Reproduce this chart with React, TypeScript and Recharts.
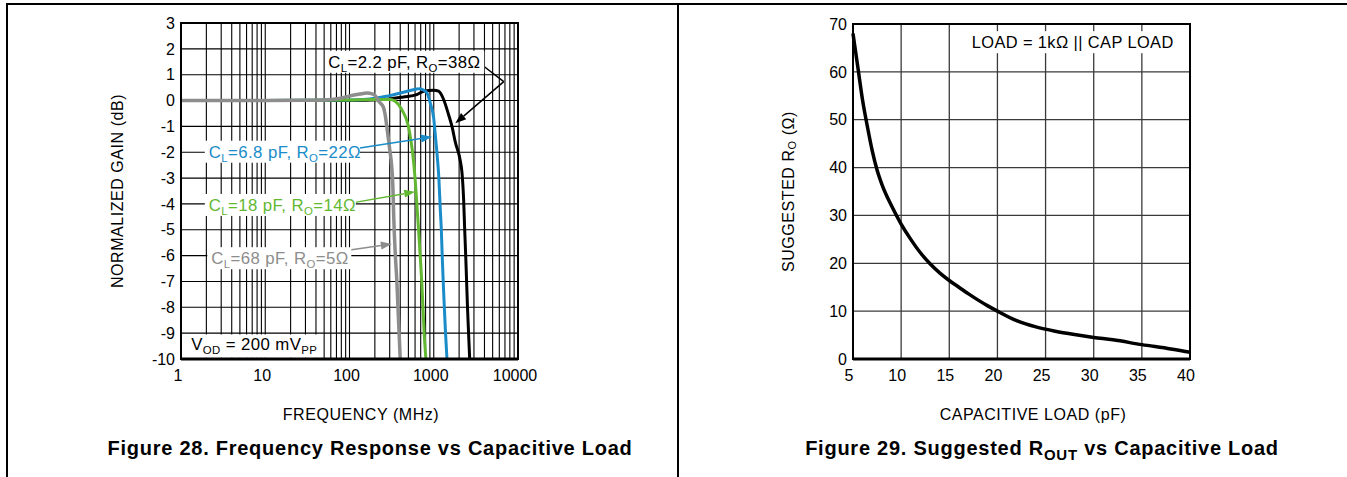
import {
  CartesianGrid,
  Line,
  LineChart,
  ReferenceArea,
  ReferenceDot,
  ReferenceLine,
  XAxis,
  YAxis,
} from "recharts";

const FONT = "'Liberation Sans', Arial, Helvetica, sans-serif";

// ---- Figure 28 data ----
const FREQ_TICKS = [1, 10, 100, 1000, 10000];
const FREQ_GRID = [
  1, 2, 3, 4, 5, 6, 7, 8, 9, 10, 20, 30, 40, 50, 60, 70, 80, 90, 100, 200, 300,
  400, 500, 600, 700, 800, 900, 1000, 2000, 3000, 4000, 5000, 6000, 7000, 8000,
  9000, 10000,
];
const GAIN_TICKS = [3, 2, 1, 0, -1, -2, -3, -4, -5, -6, -7, -8, -9, -10];

const cl22Freq = [1, 10, 100, 252, 437, 630, 760, 1000, 1140, 1310, 1500, 1645, 1800, 2070, 2165, 2260, 2330, 2395, 2455, 2515, 2590, 2670];
const cl22Gain = [0, 0, 0, 0.04, 0.14, 0.23, 0.36, 0.4, 0.36, 0.04, -0.55, -1.0, -1.6, -2.35, -2.8, -3.8, -5.0, -6.0, -7.0, -8.0, -9.0, -10];

const cl68pFreq = [1, 10, 100, 175, 277, 437, 630, 690, 760, 830, 910, 1000, 1045, 1090, 1150, 1195, 1230, 1260, 1295, 1335, 1380, 1435];
const cl68pGain = [0, 0, 0.02, 0.06, 0.17, 0.32, 0.45, 0.46, 0.4, 0.3, -0.1, -0.7, -1.35, -2.0, -3.0, -4.2, -5.0, -6.0, -7.0, -8.0, -9.0, -10];

const cl18Freq = [1, 10, 100, 190, 300, 340, 380, 437, 470, 500, 530, 560, 600, 630, 660, 690, 720, 745, 770, 807];
const cl18Gain = [0, 0, 0.02, 0.04, 0.04, 0, -0.15, -0.47, -0.7, -1.0, -1.45, -2.0, -3.0, -4.0, -5.0, -6.0, -7.0, -8.0, -9.0, -10];

const cl68Freq = [1, 10, 30, 50, 75, 93, 133, 160, 190, 210, 225, 252, 265, 277, 290, 303, 316, 327, 335, 342, 350, 365, 376, 388, 400];
const cl68Gain = [0, 0, 0.01, 0.02, 0.08, 0.15, 0.25, 0.29, 0.25, 0.12, -0.05, -0.25, -0.55, -1.0, -1.5, -2.0, -2.5, -3.3, -4.5, -5.3, -6.0, -7.0, -8.0, -9.0, -10];

// ---- Figure 29 data ----
const CAP_TICKS = [5, 10, 15, 20, 25, 30, 35, 40];
const RO_TICKS = [0, 10, 20, 30, 40, 50, 60, 70];
const capLoad = [5, 5.5, 6, 6.5, 7, 7.5, 8, 9, 10, 11, 12, 13, 14, 15, 16, 17, 18, 19, 20, 22, 24, 26, 28, 30, 32, 35, 38, 40];
const suggestedRo = [68, 61, 54, 48.5, 43.5, 39.5, 36.5, 32, 28.2, 25.0, 22.2, 19.9, 18.0, 16.4, 15.0, 13.6, 12.3, 11.1, 10, 8, 6.7, 5.8, 5.1, 4.5, 4.0, 3.0, 2.1, 1.4];

const zip = (xs: number[], ys: number[], xk: string, yk: string) =>
  xs.map((x, i) => ({ [xk]: x, [yk]: ys[i] }));

const cl22Data = zip(cl22Freq, cl22Gain, "freq", "gain");
const cl68pData = zip(cl68pFreq, cl68pGain, "freq", "gain");
const cl18Data = zip(cl18Freq, cl18Gain, "freq", "gain");
const cl68Data = zip(cl68Freq, cl68Gain, "freq", "gain");
const roData = zip(capLoad, suggestedRo, "cap", "ro");

type Part = { t: string; sub?: boolean };

const BLACK = "#000000";
const BLUE = "#1a8cc9";
const GREEN = "#63b832";
const GRAY = "#8d8d8d";

function RichText({ x, y, parts, color, size = 16 }: any) {
  return (
    <text x={x} y={y} fill={color} fontFamily={FONT} fontSize={size} letterSpacing={0.4}>
      {parts.map((p: Part, i: number) => {
        const prevSub = i > 0 && parts[i - 1].sub;
        const dy = p.sub ? 4 : prevSub ? -4 : 0;
        return (
          <tspan key={i} dy={dy} fontSize={p.sub ? size * 0.68 : size}>
            {p.t}
          </tspan>
        );
      })}
    </text>
  );
}

const makeTag =
  (parts: Part[], color: string, boxW: number, padL = 4, size = 16.8) =>
  (props: any) => {
    const { cx, cy } = props;
    return (
      <g>
        {boxW > 0 && (
          <rect x={cx - padL} y={cy - 11} width={boxW} height={22} fill="#fff" />
        )}
        <RichText x={cx} y={cy + 6} parts={parts} color={color} size={size} />
      </g>
    );
  };

const makeArrow = (color: string, head: boolean) => (props: any) => {
  const { x1, y1, x2, y2 } = props;
  const ang = Math.atan2(y2 - y1, x2 - x1);
  const len = 11;
  const hw = 4;
  const bx = x2 - len * Math.cos(ang);
  const by = y2 - len * Math.sin(ang);
  const px = -Math.sin(ang) * hw;
  const py = Math.cos(ang) * hw;
  return (
    <g>
      <line x1={x1} y1={y1} x2={head ? bx : x2} y2={head ? by : y2} stroke={color} strokeWidth={1.5} />
      {head && (
        <polygon
          points={`${x2},${y2} ${bx + px},${by + py} ${bx - px},${by - py}`}
          fill={color}
        />
      )}
    </g>
  );
};

const tag22: Part[] = [{ t: "C" }, { t: "L", sub: true }, { t: "=2.2 pF, R" }, { t: "O", sub: true }, { t: "=38Ω" }];
const tag68p: Part[] = [{ t: "C" }, { t: "L", sub: true }, { t: "=6.8 pF, R" }, { t: "O", sub: true }, { t: "=22Ω" }];
const tag18: Part[] = [{ t: "C" }, { t: "L", sub: true }, { t: "=18 pF, R" }, { t: "O", sub: true }, { t: "=14Ω" }];
const tag68: Part[] = [{ t: "C" }, { t: "L", sub: true }, { t: "=68 pF, R" }, { t: "O", sub: true }, { t: "=5Ω" }];
const tagVod: Part[] = [{ t: "V" }, { t: "OD", sub: true }, { t: " = 200 mV" }, { t: "PP", sub: true }];
const tagLoad: Part[] = [{ t: "LOAD = 1kΩ || CAP LOAD" }];

const tickStyle = { fill: "#000", fontSize: 16, fontFamily: FONT };

const yLabel = (text: string, fromRight: number) => (props: any) => {
  const vb = props.viewBox;
  const x = vb.x + vb.width - fromRight;
  const y = vb.y + vb.height / 2;
  return (
    <text
      x={x}
      y={y}
      transform={`rotate(-90, ${x}, ${y})`}
      textAnchor="middle"
      dominantBaseline="central"
      fontFamily={FONT}
      fontSize={16}
      letterSpacing={0.55}
      fill="#000"
    >
      {text}
    </text>
  );
};

const roLabel = (props: any) => {
  const vb = props.viewBox;
  const x = vb.x + vb.width - 65;
  const y = vb.y + vb.height / 2;
  return (
    <text
      x={x}
      y={y}
      transform={`rotate(-90, ${x}, ${y})`}
      textAnchor="middle"
      dominantBaseline="central"
      fontFamily={FONT}
      fontSize={16}
      letterSpacing={0.55}
      fill="#000"
    >
      <tspan>SUGGESTED R</tspan>
      <tspan fontSize={11} dy={4}>O</tspan>
      <tspan dy={-4}> (Ω)</tspan>
    </text>
  );
};

const xLabel = (text: string) => (props: any) => {
  const vb = props.viewBox;
  return (
    <text
      x={vb.x + vb.width / 2 + 11.5}
      y={vb.y + 61}
      textAnchor="middle"
      fontFamily={FONT}
      fontSize={16}
      letterSpacing={0.55}
      fill="#000"
    >
      {text}
    </text>
  );
};

function FrequencyChart() {
  return (
    <LineChart width={540} height={440} margin={{ top: 23, right: 22, bottom: 0, left: 0 }}>
      <CartesianGrid
        stroke="#000"
        strokeWidth={1.1}
        verticalValues={FREQ_GRID}
        horizontalValues={GAIN_TICKS}
      />
      <XAxis
        dataKey="freq"
        type="number"
        scale="log"
        domain={[1, 10000]}
        ticks={FREQ_TICKS}
        interval={0}
        allowDataOverflow
        height={81}
        tickLine={false}
        tickSize={6}
        tickMargin={5}
        tick={{ ...tickStyle, dx: -3 }}
        axisLine={{ stroke: "#000", strokeWidth: 3 }}
        label={xLabel("FREQUENCY (MHz)")}
      />
      <YAxis
        type="number"
        domain={[-10, 3]}
        ticks={GAIN_TICKS}
        interval={0}
        width={181}
        tickLine={false}
        tickSize={4}
        tickMargin={2}
        tick={tickStyle}
        axisLine={{ stroke: "#000", strokeWidth: 2 }}
        label={yLabel("NORMALIZED GAIN (dB)", 64)}
      />
      <ReferenceArea x1={1} x2={10000} y1={-10} y2={3} fill="none" fillOpacity={0} stroke="#000" strokeWidth={2} />
      <ReferenceArea x1={1.04} x2={42} y1={-9.95} y2={-9.05} fill="#fff" fillOpacity={1} stroke="none" />

      <Line data={cl22Data} dataKey="gain" type="monotone" stroke={BLACK} strokeWidth={3} dot={false} isAnimationActive={false} />
      <Line data={cl68pData} dataKey="gain" type="monotone" stroke={BLUE} strokeWidth={3} dot={false} isAnimationActive={false} />
      <Line data={cl18Data} dataKey="gain" type="monotone" stroke={GREEN} strokeWidth={3} dot={false} isAnimationActive={false} />
      <Line data={cl68Data} dataKey="gain" type="monotone" stroke={GRAY} strokeWidth={3.5} dot={false} isAnimationActive={false} />

      <ReferenceDot x={56} y={1.5} r={0} shape={makeTag(tag22, BLACK, 159, 3)} />
      <ReferenceLine segment={[{ x: 3750, y: 1.375 }, { x: 6775, y: 0.73 }]} shape={makeArrow(BLACK, false)} />
      <ReferenceLine segment={[{ x: 6775, y: 0.73 }, { x: 1803, y: -0.88 }]} shape={makeArrow(BLACK, true)} />

      <ReferenceDot x={2.14} y={-1.98} r={0} shape={makeTag(tag68p, BLUE, 155)} />
      <ReferenceLine segment={[{ x: 127, y: -1.85 }, { x: 952, y: -1.4 }]} shape={makeArrow(BLUE, true)} />

      <ReferenceDot x={2.14} y={-4.04} r={0} shape={makeTag(tag18, GREEN, 151)} />
      <ReferenceLine segment={[{ x: 116, y: -3.94 }, { x: 602, y: -3.53 }]} shape={makeArrow(GREEN, true)} />

      <ReferenceDot x={2.29} y={-6.1} r={0} shape={makeTag(tag68, GRAY, 144)} />
      <ReferenceLine segment={[{ x: 101, y: -5.78 }, { x: 318, y: -5.55 }]} shape={makeArrow(GRAY, true)} />

      <ReferenceDot x={1.32} y={-9.42} r={0} shape={makeTag(tagVod, BLACK, 0)} />
    </LineChart>
  );
}

function RoutChart() {
  return (
    <LineChart width={540} height={440} margin={{ top: 24, right: 30, bottom: 0, left: 0 }}>
      <CartesianGrid stroke="#3a3a3a" strokeWidth={1.3} />
      <XAxis
        dataKey="cap"
        type="number"
        domain={[5, 40]}
        ticks={CAP_TICKS}
        interval={0}
        height={81}
        tickLine={false}
        tickSize={6}
        tickMargin={5}
        tick={{ ...tickStyle, dx: -4 }}
        axisLine={{ stroke: "#000", strokeWidth: 3 }}
        label={xLabel("CAPACITIVE LOAD (pF)")}
      />
      <YAxis
        type="number"
        domain={[0, 70]}
        ticks={RO_TICKS}
        interval={0}
        width={173}
        tickLine={false}
        tickSize={4}
        tickMargin={2}
        tick={tickStyle}
        axisLine={{ stroke: "#000", strokeWidth: 2 }}
        label={roLabel}
      />
      <ReferenceArea x1={5} x2={40} y1={0} y2={70} fill="none" fillOpacity={0} stroke="#000" strokeWidth={2} />
      <Line data={roData} dataKey="ro" type="monotone" stroke={BLACK} strokeWidth={3.5} dot={false} isAnimationActive={false} />
      <ReferenceDot x={17.33} y={66.2} r={0} shape={makeTag(tagLoad, BLACK, 215, 7, 16.4)} />
    </LineChart>
  );
}

const titleStyle = {
  position: "absolute" as const,
  top: 437,
  fontFamily: FONT,
  fontWeight: 700,
  fontSize: 20,
  letterSpacing: 0.75,
  whiteSpace: "nowrap" as const,
  transform: "translateX(-50%)",
  color: "#000",
};

export default function App() {
  return (
    <div
      style={{
        position: "absolute",
        left: 0,
        top: 0,
        width: 1347,
        height: 477,
        background: "#fff",
        overflow: "hidden",
        fontFamily: FONT,
      }}
    >
      <div style={{ position: "absolute", left: 6, top: 3, width: 1341, height: 1.5, background: "#000" }} />
      <div style={{ position: "absolute", left: 6, top: 3, width: 1.5, height: 474, background: "#000" }} />
      <div style={{ position: "absolute", left: 677, top: 3, width: 1.5, height: 474, background: "#000" }} />

      <div style={{ position: "absolute", left: 0, top: 0 }}>
        <FrequencyChart />
      </div>
      <div style={{ position: "absolute", left: 680, top: 0 }}>
        <RoutChart />
      </div>

      <div style={{ ...titleStyle, left: 370 }}>
        Figure 28. Frequency Response vs Capacitive Load
      </div>
      <div style={{ ...titleStyle, left: 1042 }}>
        Figure 29. Suggested R
        <span style={{ fontSize: 15, position: "relative", top: 5 }}>OUT</span> vs
        Capacitive Load
      </div>
    </div>
  );
}
